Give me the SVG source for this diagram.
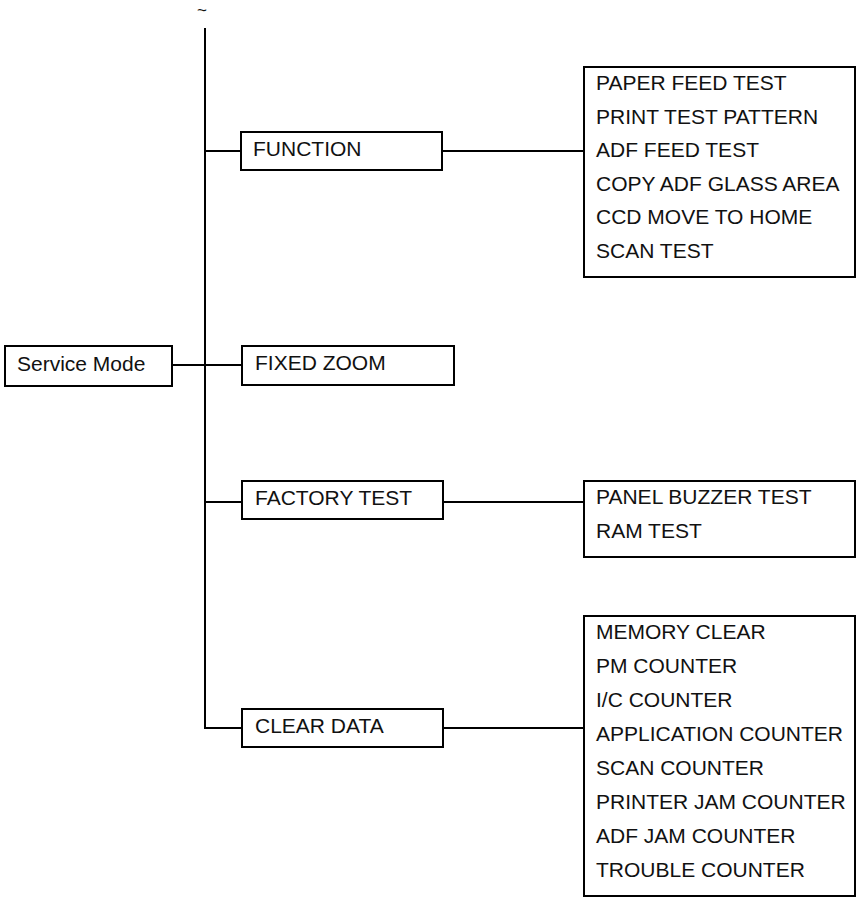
<svg xmlns="http://www.w3.org/2000/svg" width="856" height="898" viewBox="0 0 856 898">
  <style>
    .box { fill: #ffffff; stroke: #000000; stroke-width: 2; }
    .wire { fill: none; stroke: #000000; stroke-width: 2; }
    text { font-family: "Liberation Sans", Arial, Helvetica, sans-serif; font-size: 21px; fill: #111111; }
    .mark { font-size: 17px; }
  </style>
  <rect width="856" height="898" fill="#ffffff"/>

  <!-- continuation mark above the main bus -->
  <text class="mark" x="197" y="16">~</text>

  <!-- connectors -->
  <g id="connectors">
    <path class="wire" d="M205 28 V729"/>
    <path class="wire" d="M172 365 H242"/>
    <path class="wire" d="M205 151 H241"/>
    <path class="wire" d="M205 502 H242"/>
    <path class="wire" d="M205 728 H242"/>
    <path class="wire" d="M442 151 H584"/>
    <path class="wire" d="M443 502 H584"/>
    <path class="wire" d="M443 728 H584"/>
  </g>

  <!-- root -->
  <g id="service-mode">
    <rect class="box" x="5" y="346" width="167" height="40"/>
    <text x="17" y="371">Service Mode</text>
  </g>

  <!-- second level -->
  <g id="function">
    <rect class="box" x="241" y="132" width="201" height="38"/>
    <text x="253" y="156">FUNCTION</text>
  </g>
  <g id="fixed-zoom">
    <rect class="box" x="242" y="346" width="212" height="39"/>
    <text x="255" y="370">FIXED ZOOM</text>
  </g>
  <g id="factory-test">
    <rect class="box" x="242" y="481" width="201" height="38"/>
    <text x="255" y="505">FACTORY TEST</text>
  </g>
  <g id="clear-data">
    <rect class="box" x="242" y="709" width="201" height="38"/>
    <text x="255" y="733">CLEAR DATA</text>
  </g>

  <!-- third level lists -->
  <g id="function-items">
    <rect class="box" x="584" y="67" width="271" height="210"/>
    <text x="596" y="90">PAPER FEED TEST</text>
    <text x="596" y="123.5">PRINT TEST PATTERN</text>
    <text x="596" y="157">ADF FEED TEST</text>
    <text x="596" y="190.5">COPY ADF GLASS AREA</text>
    <text x="596" y="224">CCD MOVE TO HOME</text>
    <text x="596" y="257.5">SCAN TEST</text>
  </g>
  <g id="factory-test-items">
    <rect class="box" x="584" y="481" width="271" height="76"/>
    <text x="596" y="504">PANEL BUZZER TEST</text>
    <text x="596" y="538">RAM TEST</text>
  </g>
  <g id="clear-data-items">
    <rect class="box" x="584" y="616" width="271" height="280"/>
    <text x="596" y="639">MEMORY CLEAR</text>
    <text x="596" y="673">PM COUNTER</text>
    <text x="596" y="707">I/C COUNTER</text>
    <text x="596" y="741">APPLICATION COUNTER</text>
    <text x="596" y="775">SCAN COUNTER</text>
    <text x="596" y="809">PRINTER JAM COUNTER</text>
    <text x="596" y="843">ADF JAM COUNTER</text>
    <text x="596" y="877">TROUBLE COUNTER</text>
  </g>
</svg>
